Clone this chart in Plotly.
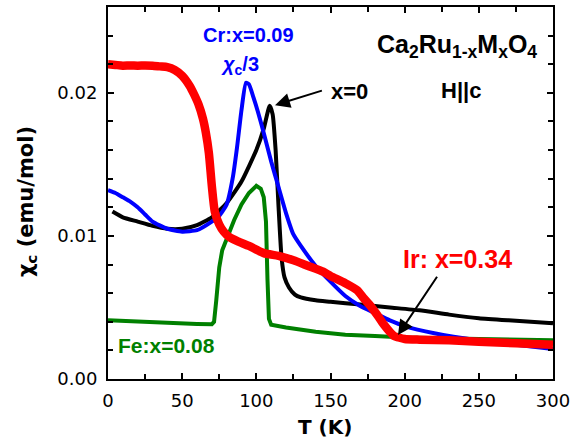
import plotly.graph_objects as go

# ---- data ----
T_x0 = [3, 10, 20, 30, 40, 50, 60, 70, 80, 90, 100, 105, 109, 111, 113, 115, 117, 119, 122, 126, 130, 140, 150, 170, 190, 210, 230, 250, 270, 300]
chi_x0 = [0.0117, 0.0113, 0.0110, 0.0107, 0.0105, 0.0105, 0.01075, 0.0113, 0.0123, 0.0138, 0.0160, 0.0175, 0.0191, 0.0185, 0.0160, 0.0120, 0.0085, 0.0071, 0.0064, 0.0059, 0.0057, 0.0055, 0.0054, 0.0052, 0.0050, 0.0048, 0.0045, 0.00425, 0.0041, 0.0039]

T_cr = [0, 5, 10, 15, 20, 25, 30, 40, 50, 60, 70, 75, 80, 84, 87, 90, 93, 95, 98, 101, 105, 110, 115, 120, 125, 130, 140, 150, 160, 170, 180, 190, 200, 220, 250, 275, 300]
chi_cr = [0.0132, 0.0130, 0.0127, 0.0124, 0.0120, 0.0115, 0.0110, 0.0105, 0.0103, 0.0104, 0.0110, 0.0114, 0.0122, 0.0140, 0.0162, 0.0188, 0.0207, 0.0206, 0.0197, 0.0187, 0.0172, 0.0152, 0.0134, 0.0116, 0.0101, 0.0093, 0.0079, 0.0068, 0.0058, 0.0051, 0.0046, 0.0041, 0.0037, 0.0032, 0.0027, 0.0024, 0.0021]

T_fe = [0, 20, 40, 60, 70, 71.5, 73, 75, 77, 80, 85, 90, 95, 100, 103, 105, 106.5, 107.5, 108.5, 110, 120, 140, 160, 180, 200, 250, 300]
chi_fe = [0.0041, 0.0040, 0.0039, 0.00385, 0.00383, 0.0040, 0.0055, 0.0078, 0.0090, 0.0098, 0.0111, 0.0122, 0.0130, 0.0135, 0.0133, 0.0127, 0.0110, 0.0070, 0.0042, 0.0038, 0.0036, 0.0033, 0.0031, 0.0030, 0.0029, 0.0028, 0.0027]

T_ir = [0, 5, 10, 15, 20, 25, 30, 35, 40, 45, 50, 55, 58, 61, 64, 66, 68, 70, 72, 75, 78, 82, 88, 95, 105, 115, 125, 135, 145, 150, 160, 168, 172, 177, 182, 186, 190, 193, 196, 200, 210, 230, 250, 275, 300]
chi_ir = [0.0220, 0.02195, 0.0219, 0.02192, 0.0219, 0.02192, 0.0219, 0.02185, 0.0218, 0.0216, 0.0212, 0.0205, 0.0199, 0.0192, 0.0182, 0.0172, 0.0158, 0.0135, 0.0117, 0.0108, 0.0103, 0.0099, 0.0096, 0.0093, 0.0088, 0.0086, 0.0083, 0.0079, 0.0075, 0.0072, 0.0067, 0.0062, 0.0057, 0.0051, 0.0044, 0.0038, 0.0033, 0.0030, 0.0029, 0.0028, 0.00275, 0.0027, 0.0026, 0.0025, 0.0024]

x_ticks = [0, 50, 100, 150, 200, 250, 300]
y_ticks = [0.00, 0.01, 0.02]
y_tick_labels = ["0.00", "0.01", "0.02"]

fig = go.Figure()
fig.add_trace(go.Scatter(x=T_fe, y=chi_fe, mode="lines", line=dict(color="#008000", width=4)))
fig.add_trace(go.Scatter(x=T_x0, y=chi_x0, mode="lines",
                         line=dict(color="#000000", width=4, shape="spline", smoothing=0.5)))
fig.add_trace(go.Scatter(x=T_cr, y=chi_cr, mode="lines",
                         line=dict(color="#0000FF", width=4, shape="spline", smoothing=0.5)))
fig.add_trace(go.Scatter(x=T_ir, y=chi_ir, mode="lines",
                         line=dict(color="#FF0000", width=8.5, shape="spline", smoothing=0.6)))

ann_font = "Liberation Sans, Arial, sans-serif"

def txt(x, y, s, color, size):
    fig.add_annotation(x=x, y=y, xref="x", yref="y", text=s, showarrow=False,
                       font=dict(family=ann_font, size=size, color=color, weight="bold"),
                       xanchor="center", yanchor="middle")

txt(94.4, 0.02406, "Cr:x=0.09", "#0000FF", 20)
txt(89, 0.0219, "<i>χ</i><sub>c</sub>/3", "#0000FF", 20)
txt(162.8, 0.02007, "x=0", "#000000", 22)
txt(235.6, 0.0233, "Ca<sub>2</sub>Ru<sub>1-x</sub>M<sub>x</sub>O<sub>4</sub>", "#000000", 25)
txt(238.3, 0.02016, "H||c", "#000000", 22)
txt(39.6, 0.00235, "Fe:x=0.08", "#008000", 21)
txt(235.3, 0.00841, "Ir: x=0.34", "#FF0000", 25)

def arrow(x, y, ax, ay):
    fig.add_annotation(x=x, y=y, ax=ax, ay=ay, xref="x", yref="y", axref="x", ayref="y",
                       text="", showarrow=True, arrowhead=2, arrowsize=1.5, arrowwidth=2,
                       arrowcolor="#000000", standoff=0, startstandoff=0)

arrow(112.6, 0.01914, 145.2, 0.02019)
arrow(195.5, 0.00307, 222.5, 0.00725)

# axis titles
fig.add_annotation(x=0.4876, y=-0.128, xref="paper", yref="paper", text="T (K)", showarrow=False,
                   font=dict(family="DejaVu Sans", size=20, color="#000000", weight="bold"),
                   xanchor="center", yanchor="middle")
fig.add_annotation(x=-0.182, y=0.476, xref="paper", yref="paper", text="χ<sub>c</sub> (emu/mol)",
                   showarrow=False, textangle=-90,
                   font=dict(family="DejaVu Sans", size=21, color="#000000", weight="bold"),
                   xanchor="center", yanchor="middle")

axis_common = dict(showline=True, linecolor="#000000", linewidth=2, mirror="allticks",
                   ticks="inside", ticklen=6, tickwidth=2, tickcolor="#000000",
                   showgrid=False, zeroline=False,
                   tickfont=dict(family="DejaVu Sans", size=18, color="#000000"))

fig.update_xaxes(range=[0, 300], tickvals=x_ticks, ticktext=[str(v) for v in x_ticks],
                 minor=dict(dtick=25, ticks="inside", ticklen=5, tickwidth=2, tickcolor="#000000", showgrid=False),
                 ticklabelstandoff=4, **axis_common)
fig.update_yaxes(range=[0, 0.026], tickvals=y_ticks, ticktext=y_tick_labels,
                 minor=dict(dtick=0.002, tick0=0, ticks="inside", ticklen=5, tickwidth=2, tickcolor="#000000", showgrid=False),
                 ticklabelstandoff=5, **axis_common)

fig.update_layout(width=585, height=444, showlegend=False,
                  margin=dict(l=108, r=32, t=5, b=65),
                  plot_bgcolor="#FFFFFF", paper_bgcolor="#FFFFFF")

fig.write_html("out.html", config={"displayModeBar": False},
               post_script="document.body.style.margin='0';document.body.style.padding='0';")
